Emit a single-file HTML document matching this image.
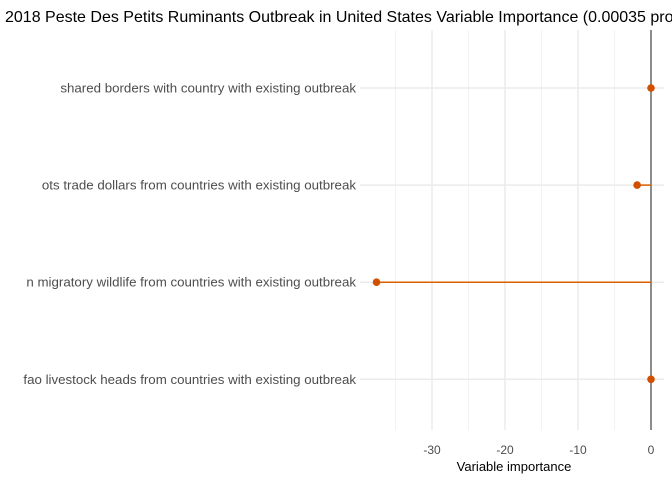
<!DOCTYPE html>
<html><head><meta charset="utf-8"><style>
body{margin:0;background:#fff;width:672px;height:480px;overflow:hidden}
svg{display:block;font-family:"Liberation Sans",Arial,sans-serif}
</style></head><body>
<svg id="chart" width="672" height="480">
<text x="5" y="22" font-size="16" fill="#000">2018 Peste Des Petits Ruminants Outbreak in United States Variable Importance (0.00035 probability)</text>
<g id="grid"></g><g id="marks"></g><g id="labels"></g>
<text x="514" y="471" font-size="13" text-anchor="middle" fill="#000">Variable importance</text>
</svg>
<script>
const categories=["shared borders with country with existing outbreak","ots trade dollars from countries with existing outbreak","n migratory wildlife from countries with existing outbreak","fao livestock heads from countries with existing outbreak"];
const values=[0,-1.9,-37.6,0];
const ticks=[-30,-20,-10,0];
const minorTicks=[-35,-25,-15,-5];
const NS="http://www.w3.org/2000/svg";
const xs=v=>651+v*7.3;
const ys=i=>88+i*97.1;
const pTop=30,pBot=430,pLeft=360,pRight=664;
function mk(t,a,p){const e=document.createElementNS(NS,t);for(const k in a)e.setAttribute(k,a[k]);p.appendChild(e);return e;}
const g=document.getElementById('grid'),m=document.getElementById('marks'),L=document.getElementById('labels');
minorTicks.forEach(t=>{const e=mk('line',{x1:xs(t),x2:xs(t),y1:pTop,y2:pBot,stroke:'#f2f2f2','stroke-width':1},g);

});
ticks.forEach(t=>{const e=mk('line',{x1:xs(t),x2:xs(t),y1:pTop,y2:pBot,stroke:'#ebebeb','stroke-width':1.5},g);


const l=mk('text',{x:xs(t),y:454,'font-size':12,'text-anchor':'middle',fill:'#4d4d4d'},L);l.textContent=t;

});
categories.forEach((c,i)=>{const e=mk('line',{x1:pLeft,x2:pRight,y1:ys(i),y2:ys(i),stroke:'#ebebeb','stroke-width':1.5},g);


const l=mk('text',{x:356,y:ys(i)+4.5,'font-size':13.3,'text-anchor':'end',fill:'#4d4d4d'},L);l.textContent=c;

});
const z=mk('line',{x1:xs(0),x2:xs(0),y1:pTop,y2:pBot,stroke:'#8c8c8c','stroke-width':2},m);


values.forEach((v,i)=>{const s=mk('line',{x1:xs(0),x2:xs(v),y1:ys(i),y2:ys(i),stroke:'#d95f02','stroke-width':1.5},m);


const p=mk('circle',{cx:xs(v),cy:ys(i),r:3.8,fill:'#d24f00'},m);

});
</script>
</body></html>
